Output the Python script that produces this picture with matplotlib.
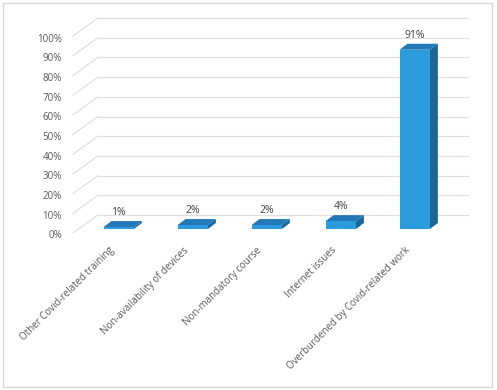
import matplotlib
matplotlib.use("Agg")
import matplotlib.pyplot as plt
from matplotlib.patches import Polygon, Rectangle

categories = ["Other Covid-related training", "Non-availability of devices",
              "Non-mandatory course", "Internet issues", "Overburdened by Covid-related work"]
values = [1, 2, 2, 4, 91]
value_labels = ["1%", "2%", "2%", "4%", "91%"]
yticks = [0, 10, 20, 30, 40, 50, 60, 70, 80, 90, 100]
ytick_labels = ["0%", "10%", "20%", "30%", "40%", "50%", "60%", "70%", "80%", "90%", "100%"]

W, H = 497, 390
fig = plt.figure(figsize=(W / 100, H / 100), dpi=100)
fig.patch.set_facecolor("white")

# front plane of the 3D box in pixels
left_px, right_px, bot_px, top_px = 73, 443, 233, 36
ax = fig.add_axes([left_px / W, (H - bot_px) / H, (right_px - left_px) / W, (bot_px - top_px) / H])
ax.set_xlim(-0.55, 4.45)
ax.set_ylim(0, 100)
ax.axis("off")

pxx = (right_px - left_px) / 5.0      # px per category unit
pxy = (bot_px - top_px) / 100.0       # px per percent

def ox(p):
    return p / pxx

def oy(p):
    return p / pxy

grid_c = "#E0E0E0"
wall_dx, wall_dy = ox(25), oy(18)
x0, x1 = ax.get_xlim()
for t in yticks:
    ax.plot([x0, x0 + wall_dx], [t, t + wall_dy], color=grid_c, lw=0.9, clip_on=False, zorder=1)
    ax.plot([x0 + wall_dx, x1 + wall_dx], [t + wall_dy, t + wall_dy], color=grid_c, lw=0.9,
            clip_on=False, zorder=1)

for t, lab in zip(yticks, ytick_labels):
    ax.text(x0 - ox(11), t - oy(3), lab, ha="right", va="center", fontsize=7,
            family="Open Sans", color="#595959")

front_c = "#2B9BDC"
top_c = "#2379B8"
side_c = "#1C6597"
bw = 0.41
fdx, fdy = ox(5), oy(4)     # bar front offset into the depth
ddx, ddy = ox(8), oy(6)     # bar depth
for i, v in enumerate(values):
    xl = i - bw / 2 + fdx
    xr = i + bw / 2 + fdx
    yb = fdy
    yt = v + fdy
    ax.add_patch(Polygon([(xr, yb), (xr + ddx, yb + ddy), (xr + ddx, yt + ddy), (xr, yt)],
                         closed=True, facecolor=side_c, edgecolor="none", zorder=3, clip_on=False))
    ax.add_patch(Polygon([(xl, yt), (xr, yt), (xr + ddx, yt + ddy), (xl + ddx, yt + ddy)],
                         closed=True, facecolor=top_c, edgecolor="none", zorder=3, clip_on=False))
    ax.add_patch(Rectangle((xl, yb), xr - xl, yt - yb, facecolor=front_c, edgecolor="none",
                           zorder=4, clip_on=False))
    ax.text(i + fdx, yt + ddy + oy(3), value_labels[i], ha="center", va="bottom", fontsize=7.5,
            family="Open Sans", color="#404040", zorder=5)

for i, c in enumerate(categories):
    ax.text(i - ox(5), -oy(12), c, rotation=45, ha="right", va="top", rotation_mode="anchor",
            fontsize=7, family="Open Sans", color="#595959")

fig.add_artist(Rectangle((3 / W, 3 / H), 489 / W, 384 / H, transform=fig.transFigure,
                         facecolor="none", edgecolor="#D9D9D9", lw=1))

fig.savefig("out.png", dpi=100, facecolor="white")
